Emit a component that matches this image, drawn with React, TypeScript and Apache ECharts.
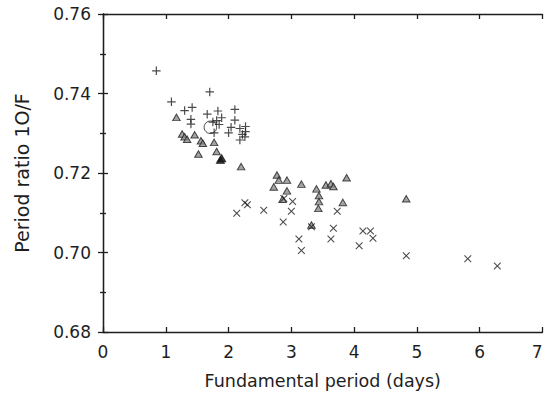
import React, { useEffect, useRef } from "react";
import * as echarts from "echarts";

const xTicks = [0, 1, 2, 3, 4, 5, 6, 7];
const yTickLabels = ["0.68", "0.70", "0.72", "0.74", "0.76"];

const plusPoints: number[][] = [
  [0.85, 0.7457], [1.09, 0.7379], [1.30, 0.7357], [1.42, 0.7365], [1.40, 0.7335],
  [1.40, 0.7323], [1.66, 0.7348], [1.70, 0.7404], [1.83, 0.7356], [1.89, 0.7339],
  [1.81, 0.7332], [1.75, 0.7328], [1.85, 0.7322], [1.77, 0.7301], [2.10, 0.7360],
  [2.10, 0.7333], [2.04, 0.7315], [2.00, 0.7301], [2.18, 0.7312], [2.27, 0.7317],
  [2.27, 0.7304], [2.22, 0.7297], [2.18, 0.7283], [2.26, 0.7291],
];

const trianglePoints: number[][] = [
  [1.17, 0.7340], [1.26, 0.7298], [1.30, 0.7291], [1.34, 0.7285], [1.46, 0.7296],
  [1.56, 0.7281], [1.59, 0.7275], [1.77, 0.7277], [1.52, 0.7248], [1.81, 0.7254],
  [2.20, 0.7216], [2.77, 0.7195], [2.80, 0.7182], [2.93, 0.7182], [2.72, 0.7165],
  [3.16, 0.7172], [2.93, 0.7155], [2.86, 0.7134], [3.40, 0.7160], [3.55, 0.7170],
  [3.63, 0.7173], [3.67, 0.7166], [3.88, 0.7188], [3.44, 0.7143], [3.44, 0.7128],
  [3.43, 0.7111], [3.82, 0.7126], [3.32, 0.7069], [4.83, 0.7135],
];

const filledTrianglePoints: number[][] = [
  [1.87, 0.7233], [1.89, 0.7237],
];

const crossPoints: number[][] = [
  [2.13, 0.7099], [2.26, 0.7125], [2.30, 0.7120], [2.56, 0.7106], [2.88, 0.7136],
  [3.02, 0.7128], [3.00, 0.7104], [2.87, 0.7077], [3.32, 0.7065], [3.12, 0.7034],
  [3.16, 0.7005], [3.73, 0.7104], [3.67, 0.7061], [3.63, 0.7034], [4.14, 0.7054],
  [4.26, 0.7054], [4.30, 0.7036], [4.08, 0.7017], [4.83, 0.6992], [5.81, 0.6984],
  [6.28, 0.6966],
];

const circlePoints: number[][] = [[1.71, 0.7315]];

const PLUS = "path://M4.3,0H5.7V4.3H10V5.7H5.7V10H4.3V5.7H0V4.3H4.3Z";
const CROSS = "path://M0,1L1,0L5,4L9,0L10,1L6,5L10,9L9,10L5,6L1,10L0,9L4,5Z";

const FONT = "DejaVu Sans";
const INK = "#1e1e1e";

export default function App() {
  const ref = useRef<HTMLDivElement>(null);
  useEffect(() => {
    if (!ref.current) return;
    const chart = echarts.init(ref.current, undefined, { renderer: "svg" });
    const axisLine = { show: true, lineStyle: { color: INK, width: 1.3 } };
    const xBase = {
      type: "value" as const,
      min: xTicks[0],
      max: xTicks[xTicks.length - 1],
      interval: 1,
      splitLine: { show: false },
      axisLine,
      axisTick: { show: true, inside: true, length: 5, lineStyle: { color: INK, width: 1.3 } },
    };
    const yBase = {
      type: "value" as const,
      min: Number(yTickLabels[0]),
      max: Number(yTickLabels[yTickLabels.length - 1]),
      interval: 0.02,
      splitLine: { show: false },
      axisLine,
      axisTick: { show: true, inside: true, length: 5, lineStyle: { color: INK, width: 1.3 } },
      minorTick: { show: true, splitNumber: 2, length: 3, lineStyle: { color: INK, width: 1.3 } },
    };
    chart.setOption({
      animation: false,
      backgroundColor: "#fff",
      grid: {
        left: 103,
        right: 2.5,
        top: 14,
        bottom: 63,
        containLabel: false,
        outerBoundsMode: "none",
      },
      xAxis: [
        {
          ...xBase,
          position: "bottom",
          name: "Fundamental period (days)",
          nameLocation: "middle",
          nameGap: 40,
          nameTextStyle: { fontFamily: FONT, fontSize: 17.5, color: INK },
          axisLabel: {
            fontFamily: FONT,
            fontSize: 17,
            color: INK,
            margin: 11,
            alignMaxLabel: "right",
          },
        },
        { ...xBase, position: "top", axisLabel: { show: false } },
      ],
      yAxis: [
        {
          ...yBase,
          position: "left",
          name: "Period ratio 1O/F",
          nameLocation: "middle",
          nameGap: 72,
          nameTextStyle: { fontFamily: FONT, fontSize: 19, color: INK },
          axisLabel: {
            fontFamily: FONT,
            fontSize: 17,
            color: INK,
            margin: 12,
            formatter: (v: number) => v.toFixed(2),
          },
        },
        { ...yBase, position: "right", axisLabel: { show: false } },
      ],
      series: [
        {
          type: "scatter",
          data: trianglePoints,
          symbol: "triangle",
          symbolSize: [7.5, 6.5],
          itemStyle: { color: "#8c8c8c", borderColor: INK, borderWidth: 1 },
        },
        {
          type: "scatter",
          data: filledTrianglePoints,
          symbol: "triangle",
          symbolSize: [8, 7],
          itemStyle: { color: "#111", borderColor: "#111", borderWidth: 1 },
        },
        {
          type: "scatter",
          data: crossPoints,
          symbol: CROSS,
          symbolSize: 7.5,
          itemStyle: { color: INK },
        },
        {
          type: "scatter",
          data: plusPoints,
          symbol: PLUS,
          symbolSize: 8.5,
          itemStyle: { color: INK },
        },
        {
          type: "scatter",
          data: circlePoints,
          symbol: "circle",
          symbolSize: 12.5,
          itemStyle: { color: "rgba(0,0,0,0)", borderColor: INK, borderWidth: 1 },
        },
      ],
    });
    return () => chart.dispose();
  }, []);
  return (
    <div
      ref={ref}
      style={{ position: "fixed", left: 0, top: 0, width: 545, height: 395 }}
    />
  );
}
